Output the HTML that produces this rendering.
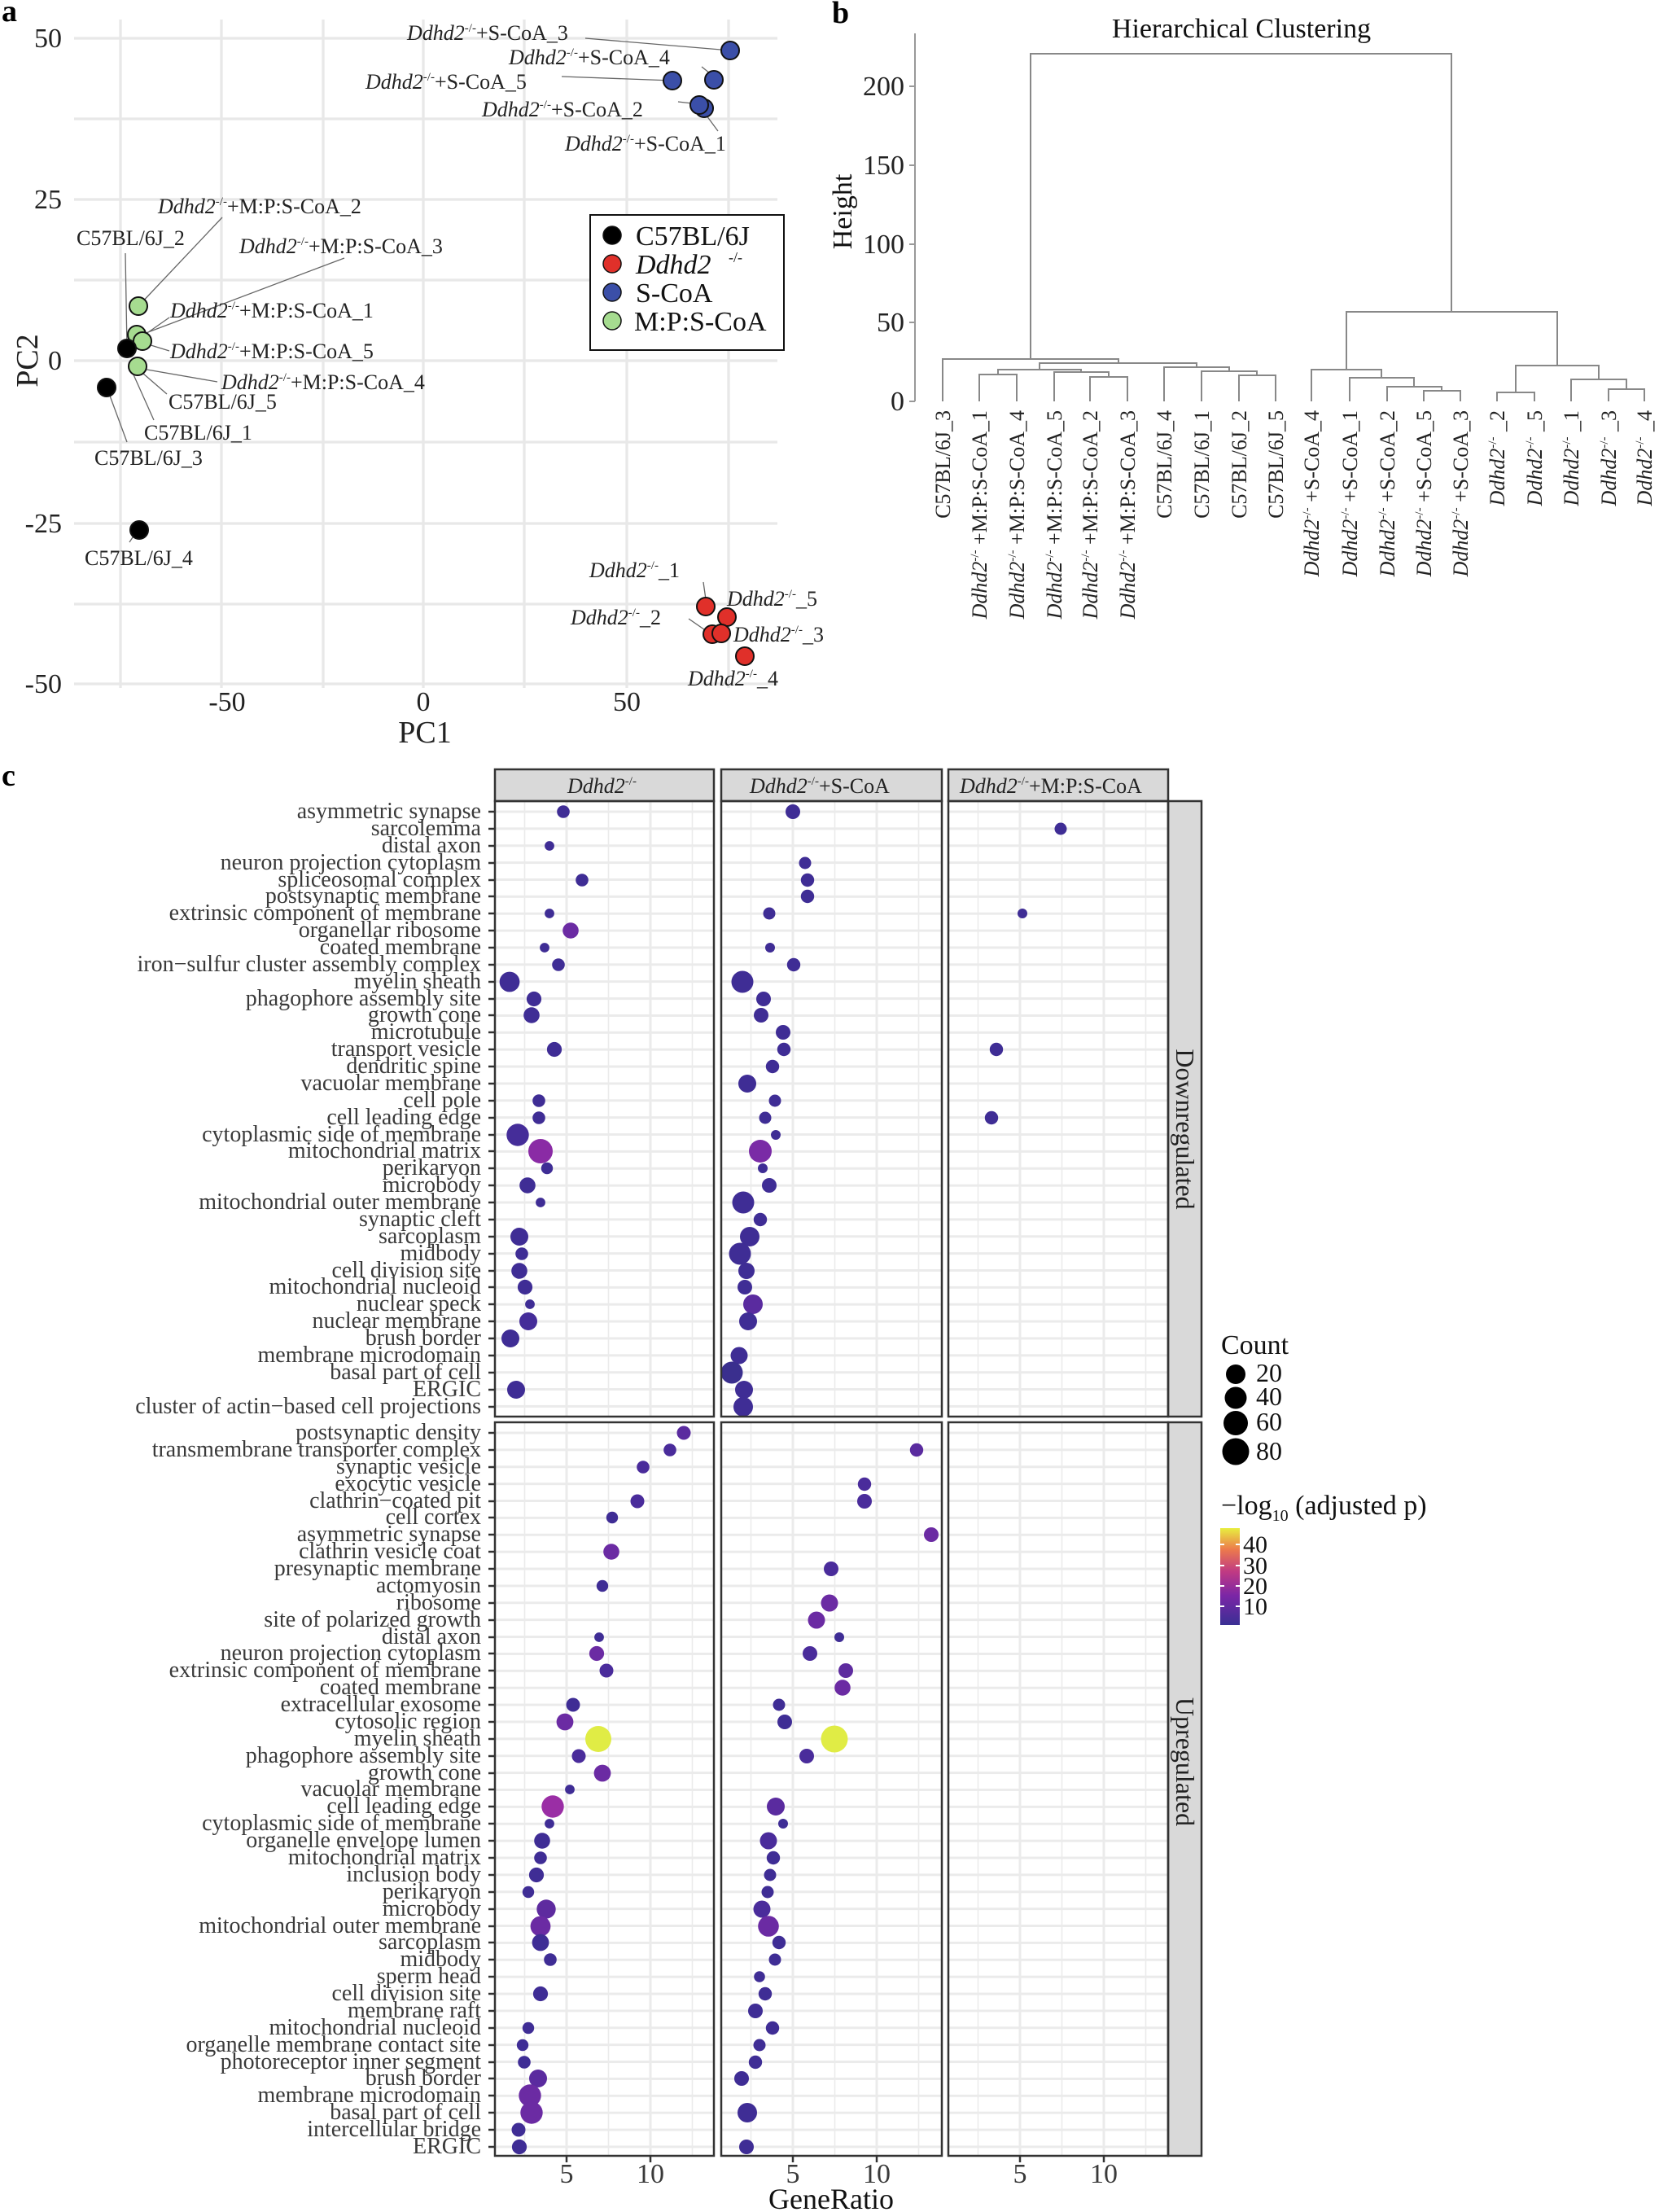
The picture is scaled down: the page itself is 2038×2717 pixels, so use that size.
<!DOCTYPE html>
<html><head><meta charset="utf-8"><style>
html,body{margin:0;padding:0;background:#fff;}
svg{display:block;font-family:"Liberation Serif",serif;}
</style></head><body>
<svg width="2038" height="2717" viewBox="0 0 2038 2717" xmlns="http://www.w3.org/2000/svg">
<defs>
<linearGradient id="plasma" x1="0" y1="1" x2="0" y2="0">
<stop offset="0" stop-color="#3a2f94"/><stop offset="0.3" stop-color="#7a26a6"/><stop offset="0.55" stop-color="#c03a83"/><stop offset="0.78" stop-color="#ec7a4c"/><stop offset="1" stop-color="#e8ee3f"/>
</linearGradient>
<pattern id="pd" patternUnits="userSpaceOnUse" x="0" y="995.5" width="2038" height="20.87"><rect x="0" y="0" width="2038" height="3" fill="#ebebeb"/></pattern>
<pattern id="pu" patternUnits="userSpaceOnUse" x="0" y="1758.5" width="2038" height="20.88"><rect x="0" y="0" width="2038" height="3" fill="#ebebeb"/></pattern>
</defs>

<!-- ============ PANEL A ============ -->
<text x="2" y="26" font-size="38" font-weight="bold">a</text>
<g stroke="#e8e8e8" stroke-width="3.3" fill="none">
<path d="M148 24V845M272 24V845M397 24V845M520 24V845M644 24V845M770 24V845M895 24V845"/>
<path d="M91 47H955M91 146H955M91 245H955M91 344H955M91 443H955M91 543H955M91 643H955M91 742H955M91 840H955"/>
</g>
<g font-size="34" fill="#222" text-anchor="end">
<text x="76" y="58">50</text><text x="76" y="256">25</text><text x="76" y="454">0</text><text x="76" y="654">-25</text><text x="76" y="851">-50</text>
</g>
<g font-size="34" fill="#222" text-anchor="middle">
<text x="279" y="873">-50</text><text x="520" y="873">0</text><text x="770" y="873">50</text>
<text x="522" y="912" font-size="38">PC1</text>
</g>
<text transform="translate(46,443) rotate(-90)" font-size="38" text-anchor="middle" fill="#222">PC2</text>

<!-- leader lines -->
<g stroke="#666" stroke-width="1.3" fill="none">
<path d="M719 47L897 62M862 82L877 94M690 94L826 99M833 125L859 128M882 161L865 138"/>
<path d="M273 267L170 376M154 311L156 428M423 317L174 411M208 390L178 411M208 431L182 423M267 469L169 452M205 484L168 452M189 516L163 458M156 543L132 478M159 666L169 651"/>
<path d="M864 715L867 736M846 760L872 778"/>
</g>
<!-- points -->
<g stroke="#111" stroke-width="2">
<circle cx="897" cy="62" r="11" fill="#3b4fa8"/><circle cx="877" cy="98" r="11" fill="#3b4fa8"/><circle cx="826" cy="99" r="11" fill="#3b4fa8"/><circle cx="865" cy="133" r="11" fill="#3b4fa8"/><circle cx="859" cy="129" r="11" fill="#3b4fa8"/>
<circle cx="170" cy="376" r="11" fill="#a6dc90"/><circle cx="168" cy="411" r="11" fill="#a6dc90"/><circle cx="175" cy="419" r="11" fill="#a6dc90"/>
<circle cx="156" cy="428" r="11" fill="#000"/><circle cx="169" cy="450" r="11" fill="#a6dc90"/>
<circle cx="131" cy="476" r="11" fill="#000"/><circle cx="171" cy="651" r="11" fill="#000"/>
<circle cx="867" cy="745" r="11" fill="#e0302a"/><circle cx="893" cy="758" r="11" fill="#e0302a"/><circle cx="875" cy="779" r="11" fill="#e0302a"/><circle cx="886" cy="778" r="11" fill="#e0302a"/><circle cx="915" cy="806" r="11" fill="#e0302a"/>
</g>
<!-- labels -->
<g font-size="26" fill="#222">
<text x="500" y="49"><tspan font-style="italic">Ddhd2</tspan><tspan font-size="15" dy="-10">-/-</tspan><tspan dy="10">+S-CoA_3</tspan></text>
<text x="625" y="79"><tspan font-style="italic">Ddhd2</tspan><tspan font-size="15" dy="-10">-/-</tspan><tspan dy="10">+S-CoA_4</tspan></text>
<text x="449" y="109"><tspan font-style="italic">Ddhd2</tspan><tspan font-size="15" dy="-10">-/-</tspan><tspan dy="10">+S-CoA_5</tspan></text>
<text x="592" y="143"><tspan font-style="italic">Ddhd2</tspan><tspan font-size="15" dy="-10">-/-</tspan><tspan dy="10">+S-CoA_2</tspan></text>
<text x="694" y="185"><tspan font-style="italic">Ddhd2</tspan><tspan font-size="15" dy="-10">-/-</tspan><tspan dy="10">+S-CoA_1</tspan></text>
<text x="194" y="262"><tspan font-style="italic">Ddhd2</tspan><tspan font-size="15" dy="-10">-/-</tspan><tspan dy="10">+M:P:S-CoA_2</tspan></text>
<text x="94" y="301">C57BL/6J_2</text>
<text x="294" y="311"><tspan font-style="italic">Ddhd2</tspan><tspan font-size="15" dy="-10">-/-</tspan><tspan dy="10">+M:P:S-CoA_3</tspan></text>
<text x="209" y="390"><tspan font-style="italic">Ddhd2</tspan><tspan font-size="15" dy="-10">-/-</tspan><tspan dy="10">+M:P:S-CoA_1</tspan></text>
<text x="209" y="440"><tspan font-style="italic">Ddhd2</tspan><tspan font-size="15" dy="-10">-/-</tspan><tspan dy="10">+M:P:S-CoA_5</tspan></text>
<text x="272" y="478"><tspan font-style="italic">Ddhd2</tspan><tspan font-size="15" dy="-10">-/-</tspan><tspan dy="10">+M:P:S-CoA_4</tspan></text>
<text x="207" y="502">C57BL/6J_5</text>
<text x="177" y="540">C57BL/6J_1</text>
<text x="116" y="571">C57BL/6J_3</text>
<text x="104" y="694">C57BL/6J_4</text>
<text x="724" y="709"><tspan font-style="italic">Ddhd2</tspan><tspan font-size="15" dy="-10">-/-</tspan><tspan dy="10">_1</tspan></text>
<text x="893" y="744"><tspan font-style="italic">Ddhd2</tspan><tspan font-size="15" dy="-10">-/-</tspan><tspan dy="10">_5</tspan></text>
<text x="701" y="767"><tspan font-style="italic">Ddhd2</tspan><tspan font-size="15" dy="-10">-/-</tspan><tspan dy="10">_2</tspan></text>
<text x="901" y="788"><tspan font-style="italic">Ddhd2</tspan><tspan font-size="15" dy="-10">-/-</tspan><tspan dy="10">_3</tspan></text>
<text x="845" y="842"><tspan font-style="italic">Ddhd2</tspan><tspan font-size="15" dy="-10">-/-</tspan><tspan dy="10">_4</tspan></text>
</g>
<!-- legend -->
<rect x="725" y="264" width="238" height="166" fill="#fff" stroke="#111" stroke-width="2"/>
<g stroke="#111" stroke-width="1.5">
<circle cx="752" cy="289" r="11" fill="#000"/><circle cx="752" cy="324" r="11" fill="#e0302a"/><circle cx="752" cy="359" r="11" fill="#3b4fa8"/><circle cx="752" cy="394" r="11" fill="#a6dc90"/>
</g>
<g font-size="34" fill="#111">
<text x="781" y="301">C57BL/6J</text>
<text x="781" y="336" font-style="italic">Ddhd2</text><text x="895" y="322" font-size="18">-/-</text>
<text x="781" y="371">S-CoA</text>
<text x="779" y="406">M:P:S-CoA</text>
</g>

<!-- ============ PANEL B ============ -->
<text x="1022" y="28" font-size="38" font-weight="bold">b</text>
<text x="1525" y="46" font-size="34" text-anchor="middle" fill="#111">Hierarchical Clustering</text>
<path d="M1124 41V493" stroke="#999" stroke-width="2"/>
<g stroke="#999" stroke-width="2"><path d="M1117 493H1124M1117 396H1124M1117 300H1124M1117 203H1124M1117 106H1124"/></g>
<g font-size="34" fill="#222" text-anchor="end">
<text x="1111" y="504">0</text><text x="1111" y="407">50</text><text x="1111" y="311">100</text><text x="1111" y="214">150</text><text x="1111" y="117">200</text>
</g>
<text transform="translate(1046,260) rotate(-90)" font-size="34" text-anchor="middle" fill="#111">Height</text>
<g stroke="#888" stroke-width="2" fill="none">
<path d="M1203 493V460H1249V493M1339 493V463H1385V493M1295 493V457H1362V463M1226 460V454H1328V457M1522 493V461H1567V493M1476 493V456H1544V461M1430 493V451H1510V456M1277 454V446H1470V451M1158 493V441H1374V446"/>
<path d="M1749 493V480H1794V493M1704 493V475H1771V480M1658 493V464H1737V475M1611 493V454H1697V464M1839 493V482H1885V493M1976 493V478H2020V493M1930 493V466H1998V478M1862 482V449H1964V466M1654 454V383H1913V449M1266 441V66H1783V383"/>
</g>
<g font-size="26" fill="#222" text-anchor="end">
<text transform="translate(1167,504) rotate(-90)">C57BL/6J_3</text>
<text transform="translate(1212,504) rotate(-90)"><tspan font-style="italic">Ddhd2</tspan><tspan font-size="15" dy="-10">-/-</tspan><tspan dy="10"> +M:P:S-CoA_1</tspan></text>
<text transform="translate(1258,504) rotate(-90)"><tspan font-style="italic">Ddhd2</tspan><tspan font-size="15" dy="-10">-/-</tspan><tspan dy="10"> +M:P:S-CoA_4</tspan></text>
<text transform="translate(1304,504) rotate(-90)"><tspan font-style="italic">Ddhd2</tspan><tspan font-size="15" dy="-10">-/-</tspan><tspan dy="10"> +M:P:S-CoA_5</tspan></text>
<text transform="translate(1348,504) rotate(-90)"><tspan font-style="italic">Ddhd2</tspan><tspan font-size="15" dy="-10">-/-</tspan><tspan dy="10"> +M:P:S-CoA_2</tspan></text>
<text transform="translate(1394,504) rotate(-90)"><tspan font-style="italic">Ddhd2</tspan><tspan font-size="15" dy="-10">-/-</tspan><tspan dy="10"> +M:P:S-CoA_3</tspan></text>
<text transform="translate(1439,504) rotate(-90)">C57BL/6J_4</text>
<text transform="translate(1485,504) rotate(-90)">C57BL/6J_1</text>
<text transform="translate(1531,504) rotate(-90)">C57BL/6J_2</text>
<text transform="translate(1576,504) rotate(-90)">C57BL/6J_5</text>
<text transform="translate(1620,504) rotate(-90)"><tspan font-style="italic">Ddhd2</tspan><tspan font-size="15" dy="-10">-/-</tspan><tspan dy="10"> +S-CoA_4</tspan></text>
<text transform="translate(1667,504) rotate(-90)"><tspan font-style="italic">Ddhd2</tspan><tspan font-size="15" dy="-10">-/-</tspan><tspan dy="10"> +S-CoA_1</tspan></text>
<text transform="translate(1713,504) rotate(-90)"><tspan font-style="italic">Ddhd2</tspan><tspan font-size="15" dy="-10">-/-</tspan><tspan dy="10"> +S-CoA_2</tspan></text>
<text transform="translate(1758,504) rotate(-90)"><tspan font-style="italic">Ddhd2</tspan><tspan font-size="15" dy="-10">-/-</tspan><tspan dy="10"> +S-CoA_5</tspan></text>
<text transform="translate(1803,504) rotate(-90)"><tspan font-style="italic">Ddhd2</tspan><tspan font-size="15" dy="-10">-/-</tspan><tspan dy="10"> +S-CoA_3</tspan></text>
<text transform="translate(1848,504) rotate(-90)"><tspan font-style="italic">Ddhd2</tspan><tspan font-size="15" dy="-10">-/-</tspan><tspan dy="10"> _2</tspan></text>
<text transform="translate(1894,504) rotate(-90)"><tspan font-style="italic">Ddhd2</tspan><tspan font-size="15" dy="-10">-/-</tspan><tspan dy="10"> _5</tspan></text>
<text transform="translate(1939,504) rotate(-90)"><tspan font-style="italic">Ddhd2</tspan><tspan font-size="15" dy="-10">-/-</tspan><tspan dy="10"> _1</tspan></text>
<text transform="translate(1985,504) rotate(-90)"><tspan font-style="italic">Ddhd2</tspan><tspan font-size="15" dy="-10">-/-</tspan><tspan dy="10"> _3</tspan></text>
<text transform="translate(2029,504) rotate(-90)"><tspan font-style="italic">Ddhd2</tspan><tspan font-size="15" dy="-10">-/-</tspan><tspan dy="10"> _4</tspan></text>
</g>

<!-- ============ PANEL C ============ -->
<text x="2" y="965" font-size="38" font-weight="bold">c</text>
<!-- backgrounds with row gridlines -->
<rect x="608" y="984" width="827" height="756" fill="url(#pd)"/>
<rect x="608" y="1747" width="827" height="901" fill="url(#pu)"/>
<rect x="877" y="980" width="9" height="1680" fill="#fff"/>
<rect x="1157" y="980" width="8" height="1680" fill="#fff"/>
<rect x="877" y="1740" width="560" height="7" fill="#fff"/>
<!-- vertical grid -->
<g stroke="#ebebeb" fill="none">
<path stroke-width="3" d="M696 984V1740M799 984V1740M974 984V1740M1077 984V1740M1253 984V1740M1356 984V1740M696 1747V2648M799 1747V2648M974 1747V2648M1077 1747V2648M1253 1747V2648M1356 1747V2648"/>
<path stroke-width="1.6" d="M644.5 984V1740M747.5 984V1740M850.5 984V1740M922.5 984V1740M1025.5 984V1740M1128.5 984V1740M1201.5 984V1740M1304.5 984V1740M1407.5 984V1740M644.5 1747V2648M747.5 1747V2648M850.5 1747V2648M922.5 1747V2648M1025.5 1747V2648M1128.5 1747V2648M1201.5 1747V2648M1304.5 1747V2648M1407.5 1747V2648"/>
</g>

<!-- strips -->
<g stroke="#333" stroke-width="2.5" fill="#d9d9d9">
<rect x="608" y="945" width="269" height="39"/><rect x="886" y="945" width="271" height="39"/><rect x="1165" y="945" width="270" height="39"/>
<rect x="1435" y="984" width="41" height="756"/><rect x="1435" y="1747" width="41" height="901"/>
</g>
<g font-size="26" fill="#222">
<text x="697" y="974"><tspan font-style="italic">Ddhd2</tspan><tspan font-size="15" dy="-10">-/-</tspan></text>
<text x="921" y="974"><tspan font-style="italic">Ddhd2</tspan><tspan font-size="15" dy="-10">-/-</tspan><tspan dy="10">+S-CoA</tspan></text>
<text x="1179" y="974"><tspan font-style="italic">Ddhd2</tspan><tspan font-size="15" dy="-10">-/-</tspan><tspan dy="10">+M:P:S-CoA</tspan></text>
</g>
<text transform="translate(1445,1387) rotate(90)" font-size="32" text-anchor="middle" fill="#222">Downregulated</text>
<text transform="translate(1445,2164) rotate(90)" font-size="32" text-anchor="middle" fill="#222">Upregulated</text>

<!-- points down -->
<g>
<!-- panel1 -->
<circle cx="692" cy="997" r="7.8" fill="#3f2d95"/>
<circle cx="675" cy="1039" r="5.9" fill="#3f2d95"/>
<circle cx="715" cy="1081" r="7.8" fill="#3f2d95"/>
<circle cx="675" cy="1122" r="5.9" fill="#3f2d95"/>
<circle cx="701" cy="1143" r="9.8" fill="#6b2ba3"/>
<circle cx="669" cy="1164" r="5.9" fill="#3f2d95"/>
<circle cx="686" cy="1185" r="7.8" fill="#3f2d95"/>
<circle cx="626" cy="1206" r="12.4" fill="#3f2d95"/>
<circle cx="656" cy="1227" r="9.1" fill="#3f2d95"/>
<circle cx="653" cy="1247" r="9.8" fill="#3f2d95"/>
<circle cx="681" cy="1289" r="9.1" fill="#3f2d95"/>
<circle cx="662" cy="1352" r="7.8" fill="#3f2d95"/>
<circle cx="662" cy="1373" r="7.8" fill="#3f2d95"/>
<circle cx="636" cy="1394" r="13.7" fill="#452d99"/>
<circle cx="664" cy="1414" r="15" fill="#8a2ba5"/>
<circle cx="672" cy="1435" r="7.2" fill="#3f2d95"/>
<circle cx="648" cy="1456" r="9.8" fill="#3f2d95"/>
<circle cx="664" cy="1477" r="5.9" fill="#3f2d95"/>
<circle cx="638" cy="1519" r="11" fill="#3f2d95"/>
<circle cx="641" cy="1540" r="7.8" fill="#3f2d95"/>
<circle cx="638" cy="1561" r="9.8" fill="#3f2d95"/>
<circle cx="645" cy="1581" r="9.1" fill="#3f2d95"/>
<circle cx="651" cy="1602" r="5.9" fill="#3f2d95"/>
<circle cx="649" cy="1623" r="11" fill="#452d99"/>
<circle cx="627" cy="1644" r="11" fill="#3f2d95"/>
<circle cx="634" cy="1707" r="11" fill="#3f2d95"/>
<!-- panel2 -->
<circle cx="974" cy="997" r="9" fill="#3f2d95"/>
<circle cx="989" cy="1060" r="7.5" fill="#3f2d95"/>
<circle cx="992" cy="1081" r="8.2" fill="#3f2d95"/>
<circle cx="992" cy="1101" r="8.2" fill="#3f2d95"/>
<circle cx="945" cy="1122" r="7.5" fill="#3f2d95"/>
<circle cx="946" cy="1164" r="6" fill="#3f2d95"/>
<circle cx="975" cy="1185" r="8.2" fill="#3f2d95"/>
<circle cx="912" cy="1206" r="13.5" fill="#3f2d95"/>
<circle cx="938" cy="1227" r="9" fill="#3f2d95"/>
<circle cx="935" cy="1247" r="9" fill="#3f2d95"/>
<circle cx="962" cy="1268" r="9" fill="#3f2d95"/>
<circle cx="963" cy="1289" r="8.2" fill="#3f2d95"/>
<circle cx="949" cy="1310" r="8.2" fill="#3f2d95"/>
<circle cx="918" cy="1331" r="11" fill="#3f2d95"/>
<circle cx="952" cy="1352" r="7.5" fill="#3f2d95"/>
<circle cx="940" cy="1373" r="7.5" fill="#3f2d95"/>
<circle cx="953" cy="1394" r="6" fill="#3f2d95"/>
<circle cx="934" cy="1414" r="14" fill="#7a2ba6"/>
<circle cx="937" cy="1435" r="6" fill="#3f2d95"/>
<circle cx="945" cy="1456" r="9" fill="#3f2d95"/>
<circle cx="913" cy="1477" r="13.5" fill="#3f2d95"/>
<circle cx="934" cy="1498" r="8.2" fill="#3f2d95"/>
<circle cx="921" cy="1519" r="12" fill="#3f2d95"/>
<circle cx="909" cy="1540" r="13.5" fill="#3f2d95"/>
<circle cx="917" cy="1561" r="10" fill="#3f2d95"/>
<circle cx="915" cy="1581" r="9" fill="#3f2d95"/>
<circle cx="925" cy="1602" r="12" fill="#5a2b9f"/>
<circle cx="919" cy="1623" r="11" fill="#3f2d95"/>
<circle cx="908" cy="1665" r="10.5" fill="#3f2d95"/>
<circle cx="899" cy="1686" r="13.5" fill="#3a2f8e"/>
<circle cx="914" cy="1707" r="11" fill="#3f2d95"/>
<circle cx="913" cy="1728" r="12" fill="#3f2d95"/>
<!-- panel3 -->
<circle cx="1303" cy="1018" r="7.5" fill="#3f2d95"/>
<circle cx="1256" cy="1122" r="6" fill="#3f2d95"/>
<circle cx="1224" cy="1289" r="8.2" fill="#3f2d95"/>
<circle cx="1218" cy="1373" r="8.2" fill="#3f2d95"/>
</g>

<!-- points up -->
<g>
<circle cx="840" cy="1760" r="8.5" fill="#5a2b9f"/>
<circle cx="823" cy="1781" r="7.8" fill="#4a2c9b"/>
<circle cx="790" cy="1802" r="7.8" fill="#4a2c9b"/>
<circle cx="783" cy="1844" r="8.5" fill="#4a2c9b"/>
<circle cx="752" cy="1864" r="7.2" fill="#3f2d95"/>
<circle cx="751" cy="1906" r="9.8" fill="#6b2ba3"/>
<circle cx="740" cy="1948" r="7.2" fill="#3f2d95"/>
<circle cx="736" cy="2011" r="5.9" fill="#3f2d95"/>
<circle cx="733" cy="2031" r="9.1" fill="#6b2ba3"/>
<circle cx="745" cy="2052" r="8.5" fill="#4a2c9b"/>
<circle cx="704" cy="2094" r="8.5" fill="#3f2d95"/>
<circle cx="694" cy="2115" r="10.4" fill="#6b2ba3"/>
<circle cx="735" cy="2136" r="16" fill="#e0ec45"/>
<circle cx="711" cy="2157" r="8.5" fill="#4a2c9b"/>
<circle cx="740" cy="2178" r="10.4" fill="#6b2ba3"/>
<circle cx="700" cy="2198" r="5.9" fill="#3f2d95"/>
<circle cx="679" cy="2219" r="13.7" fill="#9a2ea5"/>
<circle cx="675" cy="2240" r="5.9" fill="#3f2d95"/>
<circle cx="666" cy="2261" r="9.8" fill="#3f2d95"/>
<circle cx="664" cy="2282" r="7.8" fill="#3f2d95"/>
<circle cx="659" cy="2303" r="9.1" fill="#3f2d95"/>
<circle cx="649" cy="2324" r="7.2" fill="#3f2d95"/>
<circle cx="671" cy="2345" r="11.7" fill="#5e2b9f"/>
<circle cx="664" cy="2366" r="12.4" fill="#6b2ba3"/>
<circle cx="664" cy="2386" r="10.4" fill="#3f2d95"/>
<circle cx="676" cy="2407" r="7.8" fill="#3f2d95"/>
<circle cx="664" cy="2449" r="9.1" fill="#3f2d95"/>
<circle cx="649" cy="2491" r="7.2" fill="#3f2d95"/>
<circle cx="642" cy="2512" r="7.2" fill="#3f2d95"/>
<circle cx="644" cy="2533" r="7.8" fill="#3f2d95"/>
<circle cx="661" cy="2553" r="11" fill="#5a2b9f"/>
<circle cx="651" cy="2574" r="13.7" fill="#6b2ba3"/>
<circle cx="653" cy="2595" r="13.7" fill="#6b2ba3"/>
<circle cx="637" cy="2616" r="8.5" fill="#3f2d95"/>
<circle cx="638" cy="2637" r="9.1" fill="#3f2d95"/>
<!-- panel2 -->
<circle cx="1126" cy="1781" r="8.2" fill="#5a2b9f"/>
<circle cx="1062" cy="1823" r="8.2" fill="#4a2c9b"/>
<circle cx="1062" cy="1844" r="9" fill="#4a2c9b"/>
<circle cx="1144" cy="1885" r="9" fill="#6b2ba3"/>
<circle cx="1021" cy="1927" r="9" fill="#4a2c9b"/>
<circle cx="1019" cy="1969" r="10.5" fill="#6b2ba3"/>
<circle cx="1003" cy="1990" r="10.5" fill="#6b2ba3"/>
<circle cx="1031" cy="2011" r="6" fill="#3f2d95"/>
<circle cx="995" cy="2031" r="9" fill="#4a2c9b"/>
<circle cx="1039" cy="2052" r="9" fill="#5e2b9f"/>
<circle cx="1035" cy="2073" r="9.8" fill="#6b2ba3"/>
<circle cx="957" cy="2094" r="7.5" fill="#3f2d95"/>
<circle cx="964" cy="2115" r="9" fill="#3f2d95"/>
<circle cx="1025" cy="2136" r="16.5" fill="#e0ec45"/>
<circle cx="991" cy="2157" r="9" fill="#4a2c9b"/>
<circle cx="953" cy="2219" r="11" fill="#5a2b9f"/>
<circle cx="962" cy="2240" r="6" fill="#3f2d95"/>
<circle cx="944" cy="2261" r="10.5" fill="#4a2c9b"/>
<circle cx="950" cy="2282" r="8.2" fill="#3f2d95"/>
<circle cx="946" cy="2303" r="7.5" fill="#3f2d95"/>
<circle cx="943" cy="2324" r="7.5" fill="#3f2d95"/>
<circle cx="936" cy="2345" r="10.5" fill="#4a2c9b"/>
<circle cx="944" cy="2366" r="12.8" fill="#6b2ba3"/>
<circle cx="957" cy="2386" r="8.2" fill="#3f2d95"/>
<circle cx="952" cy="2407" r="7.5" fill="#3f2d95"/>
<circle cx="933" cy="2428" r="6.8" fill="#3f2d95"/>
<circle cx="940" cy="2449" r="8.2" fill="#3f2d95"/>
<circle cx="928" cy="2470" r="9" fill="#3f2d95"/>
<circle cx="949" cy="2491" r="8.2" fill="#3f2d95"/>
<circle cx="933" cy="2512" r="7.5" fill="#3f2d95"/>
<circle cx="928" cy="2533" r="8.2" fill="#3f2d95"/>
<circle cx="911" cy="2553" r="9" fill="#3f2d95"/>
<circle cx="918" cy="2595" r="12" fill="#3f2d95"/>
<circle cx="917" cy="2637" r="9" fill="#3f2d95"/>
</g>

<!-- panel borders -->
<g stroke="#333" stroke-width="2.5" fill="none">
<rect x="608" y="984" width="269" height="756"/><rect x="886" y="984" width="271" height="756"/><rect x="1165" y="984" width="270" height="756"/>
<rect x="608" y="1747" width="269" height="901"/><rect x="886" y="1747" width="271" height="901"/><rect x="1165" y="1747" width="270" height="901"/>
</g>
<!-- y ticks -->
<path d="M599 984V2648" stroke="none"/>
<g stroke="#333" stroke-width="2.5">
<path d="M600 997H608M600 1018H608M600 1039H608M600 1060H608M600 1081H608M600 1101H608M600 1122H608M600 1143H608M600 1164H608M600 1185H608M600 1206H608M600 1227H608M600 1247H608M600 1268H608M600 1289H608M600 1310H608M600 1331H608M600 1352H608M600 1373H608M600 1394H608M600 1414H608M600 1435H608M600 1456H608M600 1477H608M600 1498H608M600 1519H608M600 1540H608M600 1561H608M600 1581H608M600 1602H608M600 1623H608M600 1644H608M600 1665H608M600 1686H608M600 1707H608M600 1728H608"/>
<path d="M600 1760H608M600 1781H608M600 1802H608M600 1823H608M600 1844H608M600 1864H608M600 1885H608M600 1906H608M600 1927H608M600 1948H608M600 1969H608M600 1990H608M600 2011H608M600 2031H608M600 2052H608M600 2073H608M600 2094H608M600 2115H608M600 2136H608M600 2157H608M600 2178H608M600 2198H608M600 2219H608M600 2240H608M600 2261H608M600 2282H608M600 2303H608M600 2324H608M600 2345H608M600 2366H608M600 2386H608M600 2407H608M600 2428H608M600 2449H608M600 2470H608M600 2491H608M600 2512H608M600 2533H608M600 2553H608M600 2574H608M600 2595H608M600 2616H608M600 2637H608"/>
<path d="M696 2648V2656M799 2648V2656M974 2648V2656M1077 2648V2656M1253 2648V2656M1356 2648V2656"/>
</g>
<!-- row labels down -->
<g font-size="28" fill="#3a3a3a" text-anchor="end">
<text x="591" y="1005">asymmetric synapse</text>
<text x="591" y="1026">sarcolemma</text>
<text x="591" y="1047">distal axon</text>
<text x="591" y="1068">neuron projection cytoplasm</text>
<text x="591" y="1089">spliceosomal complex</text>
<text x="591" y="1109">postsynaptic membrane</text>
<text x="591" y="1130">extrinsic component of membrane</text>
<text x="591" y="1151">organellar ribosome</text>
<text x="591" y="1172">coated membrane</text>
<text x="591" y="1193">iron−sulfur cluster assembly complex</text>
<text x="591" y="1214">myelin sheath</text>
<text x="591" y="1235">phagophore assembly site</text>
<text x="591" y="1255">growth cone</text>
<text x="591" y="1276">microtubule</text>
<text x="591" y="1297">transport vesicle</text>
<text x="591" y="1318">dendritic spine</text>
<text x="591" y="1339">vacuolar membrane</text>
<text x="591" y="1360">cell pole</text>
<text x="591" y="1381">cell leading edge</text>
<text x="591" y="1402">cytoplasmic side of membrane</text>
<text x="591" y="1422">mitochondrial matrix</text>
<text x="591" y="1443">perikaryon</text>
<text x="591" y="1464">microbody</text>
<text x="591" y="1485">mitochondrial outer membrane</text>
<text x="591" y="1506">synaptic cleft</text>
<text x="591" y="1527">sarcoplasm</text>
<text x="591" y="1548">midbody</text>
<text x="591" y="1569">cell division site</text>
<text x="591" y="1589">mitochondrial nucleoid</text>
<text x="591" y="1610">nuclear speck</text>
<text x="591" y="1631">nuclear membrane</text>
<text x="591" y="1652">brush border</text>
<text x="591" y="1673">membrane microdomain</text>
<text x="591" y="1694">basal part of cell</text>
<text x="591" y="1715">ERGIC</text>
<text x="591" y="1736">cluster of actin−based cell projections</text>
</g>
<g font-size="28" fill="#3a3a3a" text-anchor="end">
<text x="591" y="1768">postsynaptic density</text>
<text x="591" y="1789">transmembrane transporter complex</text>
<text x="591" y="1810">synaptic vesicle</text>
<text x="591" y="1831">exocytic vesicle</text>
<text x="591" y="1852">clathrin−coated pit</text>
<text x="591" y="1872">cell cortex</text>
<text x="591" y="1893">asymmetric synapse</text>
<text x="591" y="1914">clathrin vesicle coat</text>
<text x="591" y="1935">presynaptic membrane</text>
<text x="591" y="1956">actomyosin</text>
<text x="591" y="1977">ribosome</text>
<text x="591" y="1998">site of polarized growth</text>
<text x="591" y="2019">distal axon</text>
<text x="591" y="2039">neuron projection cytoplasm</text>
<text x="591" y="2060">extrinsic component of membrane</text>
<text x="591" y="2081">coated membrane</text>
<text x="591" y="2102">extracellular exosome</text>
<text x="591" y="2123">cytosolic region</text>
<text x="591" y="2144">myelin sheath</text>
<text x="591" y="2165">phagophore assembly site</text>
<text x="591" y="2186">growth cone</text>
<text x="591" y="2206">vacuolar membrane</text>
<text x="591" y="2227">cell leading edge</text>
<text x="591" y="2248">cytoplasmic side of membrane</text>
<text x="591" y="2269">organelle envelope lumen</text>
<text x="591" y="2290">mitochondrial matrix</text>
<text x="591" y="2311">inclusion body</text>
<text x="591" y="2332">perikaryon</text>
<text x="591" y="2353">microbody</text>
<text x="591" y="2374">mitochondrial outer membrane</text>
<text x="591" y="2394">sarcoplasm</text>
<text x="591" y="2415">midbody</text>
<text x="591" y="2436">sperm head</text>
<text x="591" y="2457">cell division site</text>
<text x="591" y="2478">membrane raft</text>
<text x="591" y="2499">mitochondrial nucleoid</text>
<text x="591" y="2520">organelle membrane contact site</text>
<text x="591" y="2541">photoreceptor inner segment</text>
<text x="591" y="2561">brush border</text>
<text x="591" y="2582">membrane microdomain</text>
<text x="591" y="2603">basal part of cell</text>
<text x="591" y="2624">intercellular bridge</text>
<text x="591" y="2645">ERGIC</text>
</g>
<!-- x tick labels -->
<g font-size="34" fill="#3a3a3a" text-anchor="middle">
<text x="696" y="2681">5</text><text x="799" y="2681">10</text>
<text x="974" y="2681">5</text><text x="1077" y="2681">10</text>
<text x="1253" y="2681">5</text><text x="1356" y="2681">10</text>
</g>
<text x="1021" y="2713" font-size="36" text-anchor="middle" fill="#111">GeneRatio</text>

<!-- legends -->
<text x="1500" y="1663" font-size="34" fill="#111">Count</text>
<g fill="#000">
<circle cx="1518" cy="1688" r="12"/><circle cx="1518" cy="1717" r="13.5"/><circle cx="1518" cy="1748" r="15"/><circle cx="1518" cy="1783" r="16.5"/>
</g>
<g font-size="32" fill="#111">
<text x="1543" y="1697">20</text><text x="1543" y="1726">40</text><text x="1543" y="1757">60</text><text x="1543" y="1793">80</text>
</g>
<text x="1500" y="1860" font-size="34" fill="#111">−log<tspan font-size="20" dy="8">10</tspan><tspan dy="-8"> (adjusted p)</tspan></text>
<rect x="1499" y="1877" width="24" height="119" fill="url(#plasma)"/>
<g stroke="#fff" stroke-width="2"><path d="M1499 1897h5M1518 1897h5M1499 1923h5M1518 1923h5M1499 1948h5M1518 1948h5M1499 1973h5M1518 1973h5"/></g>
<g font-size="30" fill="#111">
<text x="1527" y="1907">40</text><text x="1527" y="1933">30</text><text x="1527" y="1958">20</text><text x="1527" y="1983">10</text>
</g>
</svg>
</body></html>
